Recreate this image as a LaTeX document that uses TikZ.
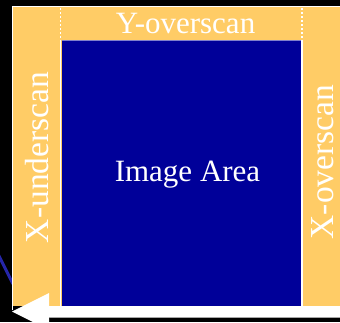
\documentclass[tikz,border=0pt]{standalone}
\usepackage{fontspec}
\setmainfont{Liberation Serif}
\definecolor{peach}{HTML}{FFCC66}
\definecolor{navy}{HTML}{000099}
\begin{document}
\begin{tikzpicture}[x=1pt,y=-1pt,
  lbl/.style={text=white,inner sep=0pt,anchor=base},
  edge/.style={white,line width=1.2pt},
  dots/.style={white,line width=1.2pt,dash pattern=on 1.5pt off 2.5pt}]
\useasboundingbox (0,0) rectangle (340,322);
\fill[black] (0,0) rectangle (340,322);
\draw[navy!85!white,line width=3pt] (-3,252) -- (13,284);
\fill[peach] (13,7) rectangle (340,306);
\fill[navy] (61.5,40) rectangle (301.5,305.5);
\draw[navy!50!white,line width=0.6pt] (61.5,40.2) -- (301.5,40.2);
\draw[white,line width=1.2pt] (12.6,310) -- (12.6,6.6) -- (340,6.6);
\draw[dots] (60.8,8) -- (60.8,40);
\draw[dots] (302,8) -- (302,40);
\draw[edge] (60.8,40) -- (60.8,306);
\draw[edge] (302,40) -- (302,306);
\fill[white] (340,306) -- (49,306) -- (49,293) -- (12,311.5) -- (49,330) -- (49,317) -- (340,317) -- cycle;
\draw[gray!70,line width=0.8pt] (49,317.4) -- (340,317.4);
\node[lbl,font=\fontsize{31}{31}\selectfont] (yo) at (185.5,33) {Y-overscan};
\node[lbl,font=\fontsize{31}{31}\selectfont] (ia) at (187.5,181.7) {Image Area};
\node[lbl,rotate=90,font=\fontsize{33.5}{33.5}\selectfont] (xu) at (48,157.5) {X-underscan};
\node[lbl,rotate=90,font=\fontsize{33.5}{33.5}\selectfont] (xo) at (333,162) {X-overscan};
\end{tikzpicture}
\end{document}
